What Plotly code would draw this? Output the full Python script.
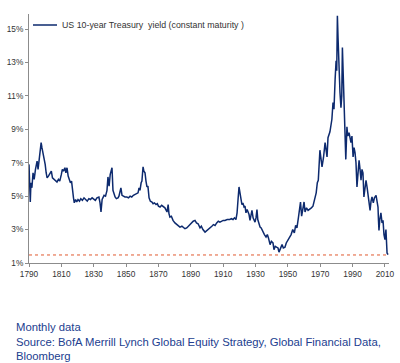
import plotly.graph_objects as go

# ---- data ----
years = [
    1790.0, 1790.4, 1790.8, 1791.2, 1791.8, 1792.5, 1793.2, 1794.0, 1795.0, 1795.6,
    1796.3, 1797.0, 1797.5, 1798.0, 1798.7, 1799.3, 1800.0, 1800.6, 1801.2, 1802.0,
    1803.0, 1803.8, 1804.5, 1805.5, 1806.5, 1807.3, 1808.2, 1809.0, 1810.0, 1810.6,
    1811.3, 1812.2, 1812.8, 1813.5, 1814.2, 1815.0, 1815.6, 1816.3, 1816.8, 1817.5,
    1818.0, 1818.8, 1819.5, 1820.3, 1821.2, 1822.0, 1823.0, 1824.0, 1825.0, 1826.0,
    1827.0, 1828.0, 1829.0, 1830.0, 1831.0, 1832.0, 1833.2, 1833.9, 1834.5, 1835.2,
    1836.4, 1837.3, 1838.2, 1838.8, 1839.5, 1840.2, 1840.7, 1841.3, 1841.9, 1842.5,
    1843.2, 1844.0, 1845.0, 1845.6, 1846.2, 1846.8, 1847.5, 1848.3, 1849.3, 1850.5,
    1851.5, 1852.5, 1853.5, 1854.5, 1855.5, 1856.5, 1857.4, 1858.0, 1858.6, 1859.3,
    1859.8, 1860.2, 1860.5, 1861.0, 1861.7, 1862.3, 1862.9, 1863.5, 1864.2, 1865.0,
    1866.0, 1866.7, 1867.5, 1868.5, 1869.3, 1870.0, 1871.0, 1872.0, 1873.0, 1874.0,
    1875.3, 1876.0, 1876.5, 1877.1, 1878.0, 1879.0, 1880.2, 1881.5, 1882.5, 1883.3,
    1884.5, 1885.5, 1886.4, 1887.5, 1888.5, 1889.5, 1890.5, 1891.5, 1892.6, 1893.5,
    1894.5, 1895.7, 1896.5, 1897.5, 1898.8, 1899.5, 1900.5, 1901.9, 1903.0, 1904.0,
    1905.0, 1906.0, 1907.0, 1908.0, 1909.0, 1910.0, 1911.1, 1912.5, 1914.0, 1915.0,
    1916.1, 1917.0, 1917.9, 1918.6, 1919.2, 1919.8, 1920.4, 1921.0, 1921.6, 1922.2,
    1922.9, 1923.5, 1924.1, 1924.8, 1925.4, 1926.0, 1926.6, 1927.3, 1927.8, 1928.5,
    1929.2, 1929.7, 1930.3, 1930.9, 1931.4, 1932.0, 1932.8, 1933.5, 1934.6, 1935.5,
    1936.5, 1937.3, 1938.0, 1939.0, 1939.8, 1940.8, 1941.4, 1942.2, 1943.0, 1943.9,
    1944.5, 1945.3, 1946.4, 1947.2, 1948.2, 1949.0, 1950.1, 1951.0, 1952.0, 1953.0,
    1954.0, 1954.8, 1955.6, 1956.5, 1957.3, 1957.8, 1958.5, 1959.3, 1960.0, 1960.6,
    1961.5, 1962.5, 1963.5, 1964.5, 1965.5, 1966.0, 1966.8, 1967.5, 1968.2, 1968.8,
    1969.8, 1970.4, 1971.1, 1972.0, 1973.0, 1974.2, 1974.8, 1976.0, 1977.2, 1977.9,
    1978.5, 1979.2, 1979.8, 1980.2, 1980.6, 1981.0, 1981.4, 1981.9, 1982.2, 1982.8,
    1983.3, 1983.7, 1984.2, 1984.7, 1985.3, 1985.8, 1986.5, 1987.0, 1987.8, 1988.4,
    1989.0, 1989.6, 1990.3, 1990.9, 1991.5, 1992.1, 1992.7, 1993.3, 1994.0, 1994.6,
    1995.2, 1995.8, 1996.4, 1997.0, 1997.6, 1998.3, 1999.0, 1999.5, 2000.2, 2000.8,
    2001.4, 2002.0, 2002.8, 2003.5, 2004.5, 2005.0, 2005.7, 2006.0, 2006.3, 2006.8,
    2007.5, 2008.2, 2008.8, 2009.4, 2010.0, 2010.6, 2011.3, 2011.9,
]
yield_pct = [
    6.9, 5.6, 4.65, 5.8, 5.5, 6.4, 6.0, 6.6, 7.1, 6.6,
    7.2, 7.5, 8.2, 7.9, 7.6, 7.2, 6.9, 6.4, 6.1, 6.2,
    6.4, 6.5, 6.1, 6.0, 5.9, 5.85, 6.0, 5.9, 6.3, 6.6,
    6.5, 6.7, 6.4, 6.7, 6.2, 6.0, 5.8, 5.9, 5.3, 4.9,
    4.6, 4.8, 4.65, 4.8, 4.7, 4.85, 4.75, 4.9, 4.8, 4.7,
    4.85, 4.8, 4.9, 4.85, 4.75, 4.9, 4.95, 4.6, 4.05, 4.8,
    5.05, 5.0, 5.35, 6.15, 5.6, 6.3, 6.55, 6.7, 5.35, 5.1,
    4.95, 4.85, 4.9, 5.0, 5.4, 5.5, 5.05, 5.0, 4.95, 4.95,
    4.9, 5.0, 4.95, 5.05, 5.1, 5.2, 5.2, 5.5, 5.35, 5.8,
    5.9, 6.4, 6.75, 6.5, 6.4, 5.9, 5.55, 5.6, 4.9, 4.7,
    4.65, 4.55, 4.6, 4.5, 4.55, 4.4, 4.35, 4.45, 4.4, 4.3,
    4.05, 4.5, 3.95, 3.75, 3.8, 3.55, 3.4, 3.3, 3.25, 3.15,
    3.2, 3.1, 3.05, 3.1, 3.2, 3.35, 3.45, 3.5, 3.55, 3.4,
    3.35, 3.1, 3.2, 3.0, 2.85, 2.9, 3.0, 3.1, 3.2, 3.3,
    3.25, 3.4, 3.5, 3.45, 3.5, 3.55, 3.55, 3.6, 3.6, 3.65,
    3.6, 3.7, 3.6, 4.0, 4.8, 5.55, 5.2, 4.8, 4.5, 4.6,
    4.35, 4.4, 4.0, 4.2, 4.05, 3.9, 3.55, 3.8, 4.15, 3.7,
    3.6, 3.45, 3.7, 4.2, 3.6, 3.4, 3.15, 3.1, 2.85, 2.7,
    2.55, 2.7, 2.5, 2.1, 2.3, 2.2, 1.8, 2.0, 1.95, 1.9,
    1.65, 1.9, 2.1, 1.9, 1.95, 2.2, 2.4, 2.55, 2.7, 3.0,
    2.8, 3.25, 3.1, 3.7, 4.2, 4.65, 3.8, 4.2, 4.65, 4.05,
    4.3, 4.15, 4.2, 4.3, 4.4, 4.65, 5.05, 5.2, 5.8, 5.95,
    7.75, 7.2, 6.75, 7.3, 8.2, 7.35, 8.5, 8.85, 9.6, 10.6,
    10.2, 12.0, 13.1, 12.5, 15.8, 14.5, 13.1, 12.0, 11.2, 10.3,
    11.0, 13.9, 12.0, 10.2, 8.6, 7.2, 9.15, 8.6, 8.8, 8.4,
    8.2, 8.6, 7.35, 7.9, 7.6, 7.0, 5.55, 6.3, 7.15, 6.6,
    5.95, 6.6, 6.4, 4.95, 5.6, 5.95, 5.5, 5.2, 4.6, 4.15,
    4.7, 4.95, 4.6, 4.9, 5.05, 4.7, 4.35, 3.55, 2.95, 3.6,
    4.0, 3.4, 3.55, 2.7, 2.4, 3.0, 1.6, 1.5,
]
ref_level = 1.48
series_name = "US 10-year Treasury  yield (constant maturity )"
y_ticks = [1, 3, 5, 7, 9, 11, 13, 15]
y_tick_labels = ["1%", "3%", "5%", "7%", "9%", "11%", "13%", "15%"]
x_ticks = [1790, 1810, 1830, 1850, 1870, 1890, 1910, 1930, 1950, 1970, 1990, 2010]
footer_lines = [
    "Monthly data",
    "Source: BofA Merrill Lynch Global Equity Strategy, Global Financial Data,",
    "Bloomberg",
]

FONT = "Liberation Sans, Arial, sans-serif"
LINE_COLOR = "#0d2a6e"

# plot area geometry in pixels
W, H = 400, 363
ML, MR, MT, MB = 29, 11, 14, 100
PW, PH = W - ML - MR, H - MT - MB

fig = go.Figure()
fig.add_trace(go.Scatter(
    x=years, y=yield_pct, mode="lines", name=series_name,
    line=dict(color=LINE_COLOR, width=1.5),
))

fig.add_shape(type="line", xref="paper", yref="y", x0=0, x1=1,
              y0=ref_level, y1=ref_level,
              line=dict(color="#e05a30", width=1, dash="dot"))

# legend (drawn manually: short line sample + label)
leg_y = 1 - (25 - MT) / PH
fig.add_shape(type="line", xref="paper", yref="paper",
              x0=4 / PW, x1=28 / PW, y0=leg_y, y1=leg_y,
              line=dict(color=LINE_COLOR, width=1.5))
fig.add_annotation(xref="paper", yref="paper", x=31 / PW, y=leg_y,
                   xanchor="left", yanchor="middle", showarrow=False,
                   text=series_name,
                   font=dict(family=FONT, size=8.8, color="#333333"))

fig.update_layout(
    width=W, height=H,
    margin=dict(l=ML, r=MR, t=MT, b=MB, autoexpand=False),
    paper_bgcolor="white", plot_bgcolor="white",
    font=dict(family=FONT, size=8.3, color="#333333"),
    showlegend=False,
    hovermode=False,
    xaxis=dict(range=[1790, 2012.5], tickvals=x_ticks, showgrid=False,
               automargin=False,
               zeroline=False, showline=True, linecolor="#8c8c8c", linewidth=1,
               ticks="outside", ticklen=3, tickcolor="#8c8c8c",
               tickfont=dict(size=8.3, color="#333333")),
    yaxis=dict(range=[1, 15.9], tickvals=y_ticks, ticktext=y_tick_labels,
               automargin=False,
               showgrid=False, zeroline=False, showline=True,
               linecolor="#8c8c8c", linewidth=1, ticks="outside", ticklen=3,
               tickcolor="#8c8c8c", tickfont=dict(size=8.3, color="#333333")),
)

fig.add_annotation(
    xref="paper", yref="paper", x=(14 - ML) / PW, y=-56 / PH,
    xanchor="left", yanchor="top", align="left", showarrow=False,
    text="<br>".join(footer_lines),
    font=dict(family=FONT, size=11.3, color="#22408f"),
)

fig.write_html(
    "out.html",
    config={"displayModeBar": False, "staticPlot": True},
    post_script="document.body.style.margin='0';document.body.style.padding='0';",
)
